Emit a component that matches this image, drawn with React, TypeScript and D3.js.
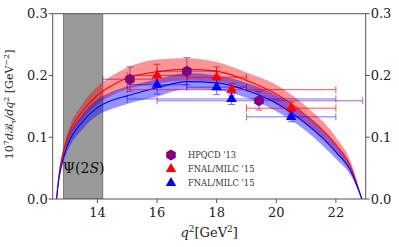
import React, { useEffect, useRef } from 'react'
import * as d3 from 'd3'

// theory bands (q^2 in GeV^2, 10^7 dB/dq^2)
const qGrid = [12.63, 12.7, 12.85, 13.0, 13.5, 14.0, 14.5, 15, 16, 17, 18, 19, 20, 21, 22, 22.5, 22.87]
const redMid = [0, 0.035, 0.075, 0.1, 0.142, 0.168, 0.184, 0.196, 0.206, 0.21, 0.207, 0.192, 0.17, 0.135, 0.088, 0.052, 0]
const redHi = [0, 0.038, 0.081, 0.108, 0.154, 0.182, 0.2, 0.213, 0.226, 0.228, 0.222, 0.205, 0.185, 0.15, 0.1, 0.06, 0]
const redLo = [0, 0.032, 0.069, 0.092, 0.13, 0.154, 0.168, 0.178, 0.187, 0.192, 0.19, 0.178, 0.155, 0.12, 0.076, 0.044, 0]
const blueMid = [0, 0.03, 0.065, 0.087, 0.125, 0.148, 0.16, 0.167, 0.18, 0.19, 0.188, 0.176, 0.155, 0.122, 0.076, 0.045, 0]
const blueHi = [0, 0.033, 0.072, 0.096, 0.137, 0.161, 0.174, 0.182, 0.194, 0.204, 0.2, 0.188, 0.168, 0.134, 0.087, 0.052, 0]
const blueLo = [0, 0.027, 0.058, 0.078, 0.113, 0.135, 0.146, 0.154, 0.166, 0.178, 0.176, 0.164, 0.142, 0.11, 0.065, 0.038, 0]

// lattice points
const hpqcdQ = [15.09, 17.0, 19.42]
const hpqcdLo = [14.18, 16, 16]
const hpqcdHi = [16, 18, 22.9]
const hpqcdVal = [0.194, 0.207, 0.159]
const hpqcdErr = [0.02, 0.022, 0.015]

const fnalQ = [16, 18, 18.5, 20.5]
const fnalLo = [15, 17, 15, 19]
const fnalHi = [17, 19, 22, 22]
const fnalRedVal = [0.2, 0.197, 0.177, 0.147]
const fnalRedErr = [0.018, 0.017, 0.01, 0.01]
const fnalBlueVal = [0.185, 0.181, 0.162, 0.133]
const fnalBlueErr = [0.015, 0.012, 0.009, 0.008]

const psiBand = [12.86, 14.18]
const xTicks = [14, 16, 18, 20, 22]
const yTicks = [0, 0.1, 0.2, 0.3]
const legendLabels = ["HPQCD '13", "FNAL/MILC '15", "FNAL/MILC '15"]

const W = 399
const H = 247
const serif = "'DejaVu Serif', serif"

const hexPath = (r: number) => {
    const pts = d3.range(6).map(k => {
        const a = Math.PI / 2 + k * Math.PI / 3
        return [r * Math.cos(a), r * Math.sin(a)]
    })
    return 'M' + pts.map(p => p.join(',')).join('L') + 'Z'
}

const App = () => {
    const ref = useRef<SVGSVGElement>(null)

    useEffect(() => {
        if (!ref.current) return
        const svg = d3.select(ref.current)
        svg.selectAll('*').remove()

        const x = d3.scaleLinear().domain([12.5, 23]).range([52.7, 365.7])
        const y = d3.scaleLinear().domain([0, 0.3]).range([199, 13.7])
        const [x0, x1] = x.range()
        const [y0, y1] = y.range()

        const clip = svg.append('clipPath').attr('id', 'plot')
        clip.append('rect').attr('x', x0).attr('y', y1).attr('width', x1 - x0).attr('height', y0 - y1)
        const g = svg.append('g').attr('clip-path', 'url(#plot)')

        // Psi(2S) veto region
        g.append('rect')
            .attr('x', x(psiBand[0])).attr('y', y1)
            .attr('width', x(psiBand[1]) - x(psiBand[0])).attr('height', y0 - y1)
            .attr('fill', '#999').attr('stroke', '#6a6a6a').attr('stroke-width', 0.8)

        const idx = d3.range(qGrid.length)
        const band = (hi: number[], lo: number[]) => d3.area<number>()
            .x(i => x(qGrid[i])).y0(i => y(lo[i])).y1(i => y(hi[i]))
            .curve(d3.curveMonotoneX)(idx)
        const line = (v: number[]) => d3.line<number>()
            .x(i => x(qGrid[i])).y(i => y(v[i]))
            .curve(d3.curveMonotoneX)(idx)

        g.append('path').attr('d', band(redHi, redLo)).attr('fill', 'rgba(255,0,0,0.42)')
        g.append('path').attr('d', band(blueHi, blueLo)).attr('fill', 'rgba(0,0,255,0.42)')
        g.append('path').attr('d', line(redMid)).attr('fill', 'none').attr('stroke', 'red').attr('stroke-width', 1.1)
        g.append('path').attr('d', line(blueMid)).attr('fill', 'none').attr('stroke', 'blue').attr('stroke-width', 1.1)

        const psi = g.append('text').attr('x', x((psiBand[0] + psiBand[1]) / 2) + 0.5).attr('y', 173)
            .attr('text-anchor', 'middle').attr('font-family', serif).attr('font-size', 14)
            .attr('fill', '#111')
        psi.append('tspan').text('Ψ(2')
        psi.append('tspan').attr('font-style', 'italic').text('S')
        psi.append('tspan').text(')')

        // error bars
        const errBars = (qs: number[], lo: number[], hi: number[], v: number[], e: number[], color: string, op: number) => {
            const eg = svg.append('g').attr('stroke', color).attr('stroke-width', 1).attr('opacity', op)
            qs.forEach((q, i) => {
                const yy = y(v[i])
                eg.append('line').attr('x1', x(lo[i])).attr('x2', x(hi[i])).attr('y1', yy).attr('y2', yy)
                eg.append('line').attr('x1', x(lo[i])).attr('x2', x(lo[i])).attr('y1', yy - 3.5).attr('y2', yy + 3.5)
                eg.append('line').attr('x1', x(hi[i])).attr('x2', x(hi[i])).attr('y1', yy - 3.5).attr('y2', yy + 3.5)
                eg.append('line').attr('x1', x(q)).attr('x2', x(q)).attr('y1', y(v[i] - e[i])).attr('y2', y(v[i] + e[i]))
                eg.append('line').attr('x1', x(q) - 3.5).attr('x2', x(q) + 3.5).attr('y1', y(v[i] - e[i])).attr('y2', y(v[i] - e[i]))
                eg.append('line').attr('x1', x(q) - 3.5).attr('x2', x(q) + 3.5).attr('y1', y(v[i] + e[i])).attr('y2', y(v[i] + e[i]))
            })
        }
        errBars(hpqcdQ, hpqcdLo, hpqcdHi, hpqcdVal, hpqcdErr, 'purple', 0.6)
        errBars(fnalQ, fnalLo, fnalHi, fnalRedVal, fnalRedErr, 'red', 0.7)
        errBars(fnalQ, fnalLo, fnalHi, fnalBlueVal, fnalBlueErr, 'blue', 0.55)

        const tri = d3.symbol().type(d3.symbolTriangle).size(48)()
        svg.append('g').selectAll('path').data(hpqcdQ).join('path')
            .attr('d', hexPath(5.5)).attr('fill', 'purple')
            .attr('transform', (q, i) => `translate(${x(q)},${y(hpqcdVal[i])})`)
        svg.append('g').selectAll('path').data(fnalQ).join('path')
            .attr('d', tri).attr('fill', 'red')
            .attr('transform', (q, i) => `translate(${x(q)},${y(fnalRedVal[i])})`)
        svg.append('g').selectAll('path').data(fnalQ).join('path')
            .attr('d', tri).attr('fill', 'blue')
            .attr('transform', (q, i) => `translate(${x(q)},${y(fnalBlueVal[i])})`)

        // frame and ticks
        const axisColor = '#555'
        svg.append('rect').attr('x', x0).attr('y', y1).attr('width', x1 - x0).attr('height', y0 - y1)
            .attr('fill', 'none').attr('stroke', axisColor).attr('stroke-width', 1)
        const ax = svg.append('g').attr('font-family', serif).attr('font-size', 13).attr('fill', '#222')
        xTicks.forEach(t => {
            ax.append('line').attr('x1', x(t)).attr('x2', x(t)).attr('y1', y0).attr('y2', y0 + 4).attr('stroke', axisColor)
            ax.append('text').attr('x', x(t)).attr('y', 217).attr('text-anchor', 'middle').text(t)
        })
        yTicks.forEach(t => {
            ax.append('line').attr('x1', x0 - 4).attr('x2', x0).attr('y1', y(t)).attr('y2', y(t)).attr('stroke', axisColor)
            ax.append('line').attr('x1', x1).attr('x2', x1 + 4).attr('y1', y(t)).attr('y2', y(t)).attr('stroke', axisColor)
            ax.append('text').attr('x', x0 - 5).attr('y', y(t) + 4.5).attr('text-anchor', 'end').text(d3.format('.1f')(t))
            ax.append('text').attr('x', x1 + 5).attr('y', y(t) + 4.5).attr('text-anchor', 'start').text(d3.format('.1f')(t))
        })

        // axis titles
        const xl = svg.append('text').attr('x', (x0 + x1) / 2).attr('y', 237).attr('text-anchor', 'middle')
            .attr('font-family', serif).attr('font-size', 13).attr('fill', '#222')
        xl.append('tspan').attr('font-style', 'italic').text('q')
        xl.append('tspan').attr('font-size', 9).attr('dy', -5).text('2')
        xl.append('tspan').attr('dy', 5).text('[GeV')
        xl.append('tspan').attr('font-size', 9).attr('dy', -5).text('2')
        xl.append('tspan').attr('dy', 5).text(']')

        const yl = svg.append('text').attr('transform', `translate(13,${(y0 + y1) / 2 - 2}) rotate(-90)`)
            .attr('text-anchor', 'middle').attr('font-family', serif).attr('font-size', 11).attr('fill', '#222')
        yl.append('tspan').text('10')
        yl.append('tspan').attr('font-size', 8).attr('dy', -4.5).text('7')
        yl.append('tspan').attr('dy', 4.5).attr('font-style', 'italic').text('d')
        yl.append('tspan').text('ℬ')
        yl.append('tspan').attr('font-size', 8).attr('dy', 2.5).text('τ')
        yl.append('tspan').attr('dy', -2.5).attr('font-style', 'italic').text('/dq')
        yl.append('tspan').attr('font-size', 8).attr('dy', -4.5).text('2')
        yl.append('tspan').attr('dy', 4.5).text(' [GeV')
        yl.append('tspan').attr('font-size', 8).attr('dy', -4.5).text('−2')
        yl.append('tspan').attr('dy', 4.5).text(']')

        // legend
        const lg = svg.append('g').attr('font-family', serif).attr('font-size', 8.3).attr('fill', '#333')
        const legendMarks = [hexPath(5.5), tri, tri]
        const legendColors = ['purple', 'red', 'blue']
        legendLabels.forEach((lab, i) => {
            const ly = 155 + i * 14
            lg.append('path').attr('d', legendMarks[i]).attr('fill', legendColors[i])
                .attr('transform', `translate(171,${ly})`)
            lg.append('text').attr('x', 188).attr('y', ly + 3).text(lab)
        })
    }, [])

    return (
        <svg ref={ref} width={W} height={H}
            style={{ position: 'absolute', left: 0, top: 0, background: '#fff' }} />
    )
}

export default App
